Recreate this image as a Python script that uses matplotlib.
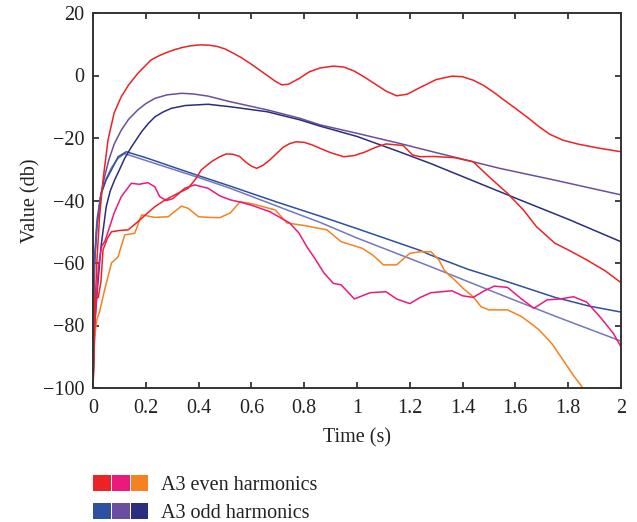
import matplotlib
matplotlib.use('Agg')
import matplotlib.pyplot as plt
from matplotlib.patches import Patch
from matplotlib.legend_handler import HandlerTuple
from matplotlib.ticker import FuncFormatter

# even harmonics (dB vs time)
red1_t = [0, 0.005, 0.015, 0.025, 0.038, 0.057, 0.08, 0.107, 0.135, 0.17, 0.22, 0.25, 0.28,
          0.31, 0.34, 0.37, 0.405, 0.44, 0.47, 0.5, 0.53, 0.56, 0.6, 0.63, 0.66, 0.69, 0.715,
          0.74, 0.78, 0.82, 0.86, 0.91, 0.95, 0.99, 1.03, 1.07, 1.11, 1.15, 1.19, 1.24,
          1.3, 1.36, 1.4, 1.44, 1.48, 1.52, 1.556, 1.6, 1.65, 1.69, 1.73, 1.78, 1.84,
          1.92, 2.0]
red1_v = [-100, -80, -59, -45, -33.4, -20.6, -12, -6.8, -3, 0.7, 5, 6.3, 7.4,
          8.3, 9.0, 9.5, 9.8, 9.7, 9.3, 8.5, 7.2, 5.8, 3.6, 1.8, 0, -1.8, -3.0,
          -2.8, -1.0, 1.2, 2.4, 3.0, 2.7, 1.4, -0.6, -2.8, -5, -6.5, -6.0, -3.8,
          -1.3, -0.2, -0.4, -1.5, -3.2, -5.5, -7.8, -10.5, -13.7, -16.4, -18.8, -20.7, -22,
          -23.3, -24.4]

red2_t = [0, 0.003, 0.006, 0.02, 0.03, 0.038, 0.055, 0.07, 0.1, 0.133, 0.17, 0.2, 0.234,
          0.27, 0.31, 0.36, 0.39, 0.41, 0.45, 0.48, 0.505, 0.53, 0.555, 0.58, 0.6, 0.62,
          0.645, 0.67, 0.7, 0.72, 0.745, 0.77, 0.8, 0.83, 0.86, 0.9, 0.95, 0.99, 1.03,
          1.07, 1.11, 1.175, 1.21, 1.24, 1.29, 1.37, 1.44, 1.5, 1.57, 1.63,
          1.68, 1.75, 1.8, 1.87, 1.94, 2.0]
red2_v = [-100, -85, -71.3, -71, -66, -55.8, -52, -50, -49.6, -49.4, -46.8, -44.5, -42,
          -40, -38.2, -36.1, -33, -30.2, -27.5, -26, -25.1, -25.2, -25.9, -27.8, -29, -29.7,
          -28.7, -27, -24.6, -23, -21.8, -21.2, -21.4, -22.2, -23.3, -24.7, -26, -25.6, -24.5,
          -23, -21.9, -22.4, -25.4, -26, -25.9, -26.3, -27.6, -32.4, -37.7, -43,
          -48.4, -53.7, -55.8, -59, -62.5, -66.3]

pink_t = [0, 0.003, 0.006, 0.02, 0.032, 0.045, 0.057, 0.08, 0.107, 0.145, 0.175, 0.208, 0.234,
          0.253, 0.278, 0.303, 0.347, 0.385, 0.436, 0.48, 0.52, 0.557, 0.6, 0.67, 0.745,
          0.78, 0.81, 0.84, 0.875, 0.91, 0.94, 0.99, 1.05, 1.11, 1.15, 1.2, 1.24, 1.28,
          1.36, 1.4, 1.44, 1.48, 1.52, 1.57, 1.62, 1.67, 1.72, 1.77, 1.82, 1.87, 1.92,
          1.97, 2.0]
pink_v = [-100, -90, -81, -62, -54.8, -53, -50, -44, -38.8, -34.5, -34.8, -34.3, -35.6,
          -38.8, -40, -39.4, -36.1, -35, -36.1, -38.5, -39.8, -40.5, -41.5, -43.6, -47.2,
          -50.4, -54.8, -58.5, -63.2, -66.5, -67, -71.5, -69.5, -69.2, -71.5, -73, -71, -69.5,
          -68.9, -70.5, -71, -69, -67.4, -67.8, -71.3, -74.5, -71.8, -71.5, -70.8, -72.5, -77.2,
          -82.4, -86.8]

orange_t = [0, 0.006, 0.015, 0.025, 0.044, 0.07, 0.095, 0.12, 0.158, 0.184, 0.234, 0.285,
            0.335, 0.36, 0.4, 0.436, 0.48, 0.52, 0.557, 0.6, 0.645, 0.69, 0.735, 0.8,
            0.886, 0.94, 1.02, 1.06, 1.1, 1.15, 1.2, 1.24, 1.28, 1.31, 1.33, 1.35, 1.37,
            1.4, 1.44, 1.47, 1.5, 1.57, 1.62, 1.65, 1.69, 1.74, 1.78, 1.82, 1.86]
orange_v = [-100, -83.6, -78, -75.6, -68.6, -60, -58, -51, -50.5, -44.6, -45.4, -45.2,
            -41.8, -42.5, -45.2, -45.4, -45.5, -44, -40.4, -41, -42, -43, -47.2, -48,
            -49.4, -53.2, -55.3, -57.5, -60.6, -60.6, -56.9, -56.4, -56.4, -59, -62.2, -64, -65.4,
            -68, -70.8, -74, -75, -75, -77, -78.8, -81.4, -86, -91, -96, -100.5]

# odd harmonics
blue_t = [0, 0.003, 0.006, 0.015, 0.03, 0.05, 0.07, 0.095, 0.126, 0.2, 0.3, 0.405, 0.52,
          0.7, 0.86, 1.0, 1.24, 1.28, 1.42, 1.57, 1.75, 1.88, 2.0]
blue_v = [-85, -72, -60, -48, -38, -33.4, -30.2, -26, -24.4, -26.3, -29.2, -32.2, -35.4,
          -40.6, -45, -49, -56, -57.5, -62, -66, -71, -73.8, -75.7]

lav_t = [0, 0.003, 0.006, 0.015, 0.03, 0.05, 0.07, 0.095, 0.12, 0.2, 0.405, 0.52, 0.784,
         0.86, 1.0, 1.28, 1.54, 1.75, 2.0]
lav_v = [-80, -68, -58, -46, -38, -33, -29.5, -26.5, -25, -27.2, -32.8, -36.1, -44.6,
         -47, -52, -61.2, -70, -77, -85]

purple_t = [0, 0.003, 0.006, 0.015, 0.03, 0.045, 0.06, 0.08, 0.107, 0.135, 0.17, 0.2, 0.235,
            0.28, 0.335, 0.38, 0.436, 0.52, 0.66, 0.784, 0.86, 1.0, 1.16, 1.277, 1.54, 1.75, 2.0]
purple_v = [-80, -70, -60, -48, -38, -32, -27, -22, -17.5, -14, -11, -9, -7.3,
            -6.2, -5.7, -5.9, -6.6, -8.4, -11, -13.7, -15.8, -18.5, -21.7, -24.2, -29.7, -33.5, -38.2]

navy_t = [0, 0.004, 0.008, 0.015, 0.03, 0.05, 0.065, 0.082, 0.1, 0.12, 0.146, 0.184, 0.21, 0.235,
          0.265, 0.297, 0.35, 0.436, 0.52, 0.66, 0.784, 0.86, 1.0, 1.16, 1.277, 1.617, 1.8, 2.0]
navy_v = [-100, -88, -78, -70, -55, -42, -37, -33.4, -30.2, -26.5, -22.8, -18, -15.3, -13.2,
          -11.7, -10.5, -9.6, -9.2, -10, -11.6, -14.2, -16.2, -19.5, -24.4, -28.1, -39.8, -46, -53.2]

RED = '#ed2224'
PINK = '#ec197d'
ORANGE = '#f58220'
BLUE = '#2e50a0'
PURPLE = '#6a4f9f'
NAVY = '#2a2e7e'
LAV = '#7377c2'

plt.rcParams['font.family'] = ['Liberation Serif', 'DejaVu Serif']
plt.rcParams['font.size'] = 14.5

fig = plt.figure(figsize=(6.37, 5.22), dpi=100)
ax = fig.add_axes([93 / 637, 1 - 388 / 522, 528 / 637, 375 / 522])

lw = 1.1
ax.plot(lav_t, lav_v, color=LAV, lw=lw)
ax.plot(blue_t, blue_v, color=BLUE, lw=lw)
ax.plot(purple_t, purple_v, color=PURPLE, lw=lw)
ax.plot(navy_t, navy_v, color=NAVY, lw=lw)
ax.plot(orange_t, orange_v, color=ORANGE, lw=lw)
ax.plot(pink_t, pink_v, color=PINK, lw=lw)
ax.plot(red2_t, red2_v, color=RED, lw=lw)
ax.plot(red1_t, red1_v, color=RED, lw=lw)

ax.set_xlim(0, 2)
ax.set_ylim(-100, 20)
ax.set_xticks([0, 0.2, 0.4, 0.6, 0.8, 1, 1.2, 1.4, 1.6, 1.8, 2])
ax.set_yticks([-100, -80, -60, -40, -20, 0, 20])
ax.xaxis.set_major_formatter(FuncFormatter(lambda v, p: '%g' % v))
ax.tick_params(direction='in', top=True, right=True, length=4, width=1.2,
               color='#222222', labelcolor='#222222')
ax.tick_params(axis='x', pad=8)
ax.tick_params(axis='y', pad=6)
for s in ax.spines.values():
    s.set_color('#333333')
    s.set_linewidth(1.4)

ax.set_xlabel('Time (s)', color='#222222', labelpad=7)
ax.set_ylabel('Value (db)', color='#222222', labelpad=2)

even = tuple(Patch(facecolor=c, edgecolor='none') for c in (RED, PINK, ORANGE))
odd = tuple(Patch(facecolor=c, edgecolor='none') for c in (BLUE, PURPLE, NAVY))
fig.legend([even, odd], ['A3 even harmonics', 'A3 odd harmonics'],
           handler_map={tuple: HandlerTuple(ndivide=None, pad=0.05)},
           loc='upper left', bbox_to_anchor=(93 / 637, 1 - 475 / 522),
           frameon=False, borderpad=0, borderaxespad=0,
           handlelength=2.75, handleheight=0.82, handletextpad=0.65,
           labelspacing=0.42, labelcolor='#222222')

fig.savefig('out.png', dpi=100)
